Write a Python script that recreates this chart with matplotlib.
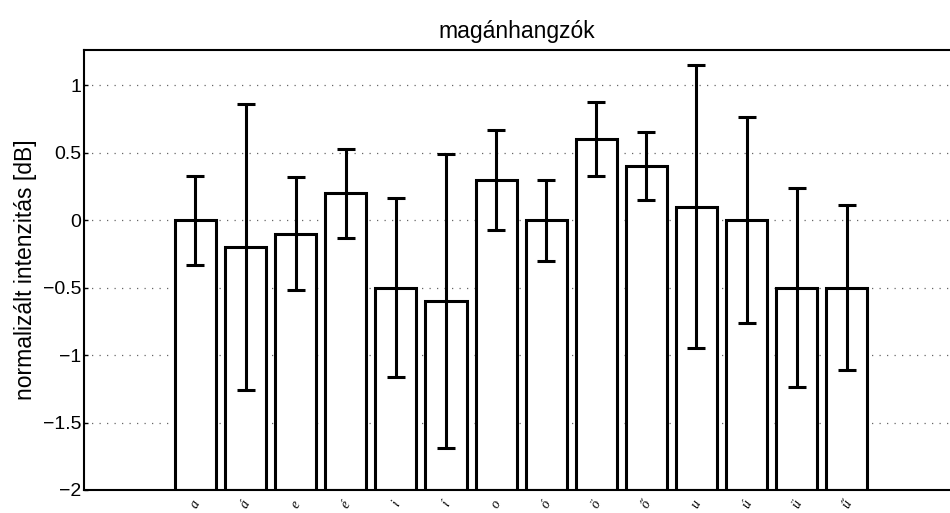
import matplotlib.pyplot as plt
import numpy as np

plt.rcParams['font.family'] = ['Liberation Sans', 'DejaVu Sans']

# magánhangzók (vowels)
labels = ['a', 'á', 'e', 'é', 'i', 'í', 'o', 'ó', 'ö', 'ő', 'u', 'ú', 'ü', 'ű']
values = [0.0, -0.2, -0.1, 0.2, -0.5, -0.6, 0.3, 0.0, 0.6, 0.4, 0.1, 0.0, -0.5, -0.5]
errors = [0.33, 1.06, 0.42, 0.33, 0.66, 1.09, 0.37, 0.30, 0.275, 0.25, 1.05, 0.76, 0.74, 0.61]
yticks = [-2, -1.5, -1, -0.5, 0, 0.5, 1]
ytick_labels = ['\u22122', '\u22121.5', '\u22121', '\u22120.5', '0', '0.5', '1']

ymin, ymax = -2, 1.26

fig = plt.figure(figsize=(9.5, 5.13), dpi=100)
ax = fig.add_axes([84 / 950, 23 / 513, 1 - 84 / 950, 440 / 513])

x = np.arange(1, len(labels) + 1)
# bars start at the lower axis limit, like the original MATLAB plot
ax.bar(x, np.array(values) - ymin, bottom=ymin, width=0.82,
       color='white', edgecolor='black', linewidth=2.2, zorder=2)
ax.errorbar(x, values, yerr=errors, fmt='none', ecolor='black',
            elinewidth=2.2, capsize=6.5, capthick=2.2, zorder=3)

ax.set_xlim(-1.225, 16.06)
ax.set_ylim(ymin, ymax)
ax.set_yticks(yticks)
ax.set_yticklabels(ytick_labels, fontsize=14)
ax.set_xticks(x)
ax.set_xticklabels(labels, rotation=60, fontsize=10, family='Liberation Serif',
                   style='italic')
ax.tick_params(axis='x', length=0, pad=6)
ax.tick_params(axis='y', direction='in', length=3, width=1, pad=2)

ax.yaxis.grid(True, linestyle=(0, (1, 5)), color='0.4', linewidth=0.9, zorder=0)
ax.set_axisbelow(True)

for side in ['left', 'top', 'bottom']:
    ax.spines[side].set_linewidth(1.5)
ax.spines['right'].set_visible(False)

ax.set_ylabel('normalizált intenzitás [dB]', fontsize=16.5, labelpad=4)
ax.set_title('magánhangzók', fontsize=16.5, pad=9)

fig.savefig('out.png', dpi=100)
